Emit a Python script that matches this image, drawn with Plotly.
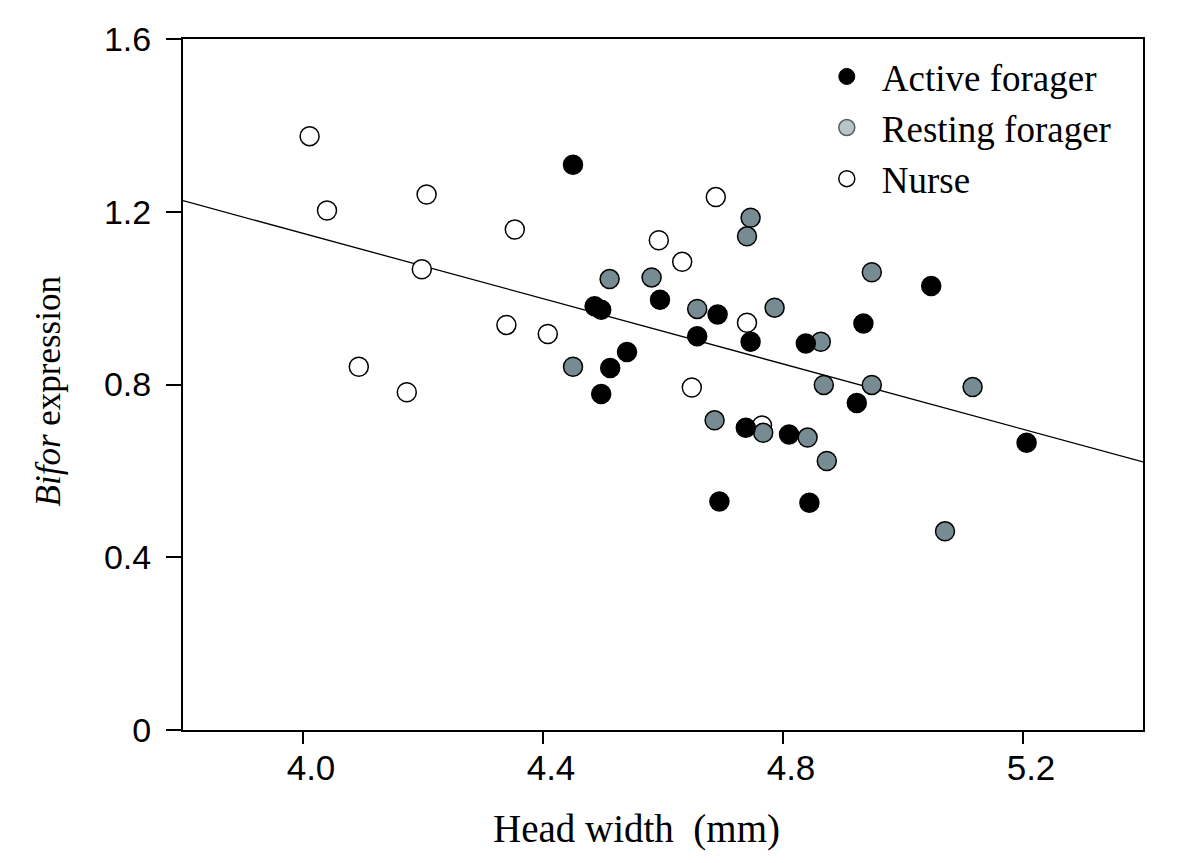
import plotly.graph_objects as go

# ---- data ----
active_x = [4.450, 4.486, 4.497, 4.595, 4.540, 4.512, 4.497, 5.047, 4.691, 4.934,
            4.657, 4.746, 4.838, 4.923, 4.738, 4.810, 4.694, 4.844, 5.206]
active_y = [1.309, 0.981, 0.973, 0.996, 0.875, 0.838, 0.778, 1.028, 0.962, 0.941,
            0.912, 0.899, 0.895, 0.757, 0.700, 0.684, 0.529, 0.526, 0.665]

resting_x = [4.511, 4.581, 4.450, 4.746, 4.740, 4.948, 4.657, 4.786, 4.863, 4.868,
             4.948, 5.116, 4.686, 4.767, 4.841, 4.873, 5.070]
resting_y = [1.044, 1.048, 0.841, 1.186, 1.143, 1.060, 0.975, 0.978, 0.899, 0.799,
             0.799, 0.794, 0.717, 0.688, 0.677, 0.623, 0.460]

nurse_x = [4.011, 4.206, 4.040, 4.353, 4.593, 4.198, 4.339, 4.408, 4.093, 4.173,
           4.688, 4.632, 4.740, 4.648, 4.765]
nurse_y = [1.375, 1.240, 1.203, 1.159, 1.134, 1.067, 0.938, 0.917, 0.841, 0.782,
           1.234, 1.084, 0.943, 0.793, 0.705]

fit_intercept = 2.662
fit_slope = -0.378

x_range = [3.8, 5.4]
y_range = [0.0, 1.6]
x_ticks = [4.0, 4.4, 4.8, 5.2]
x_ticktext = ["4.0", "4.4", "4.8", "5.2"]
y_ticks = [0.0, 0.4, 0.8, 1.2, 1.6]
y_ticktext = ["0", "0.4", "0.8", "1.2", "1.6"]

series_names = ["Active forager", "Resting forager", "Nurse"]

# ---- styles ----
GRAY = "#778b92"
LEG_GRAY = "#b9c4c7"
SERIF = "Liberation Serif, Times New Roman, serif"
SANS = "Liberation Sans, Arial, sans-serif"

fig = go.Figure()

fit_x = list(x_range)
fit_y = [fit_intercept + fit_slope * v for v in fit_x]
fig.add_trace(go.Scatter(x=fit_x, y=fit_y, mode="lines",
                         line=dict(color="black", width=1.3),
                         showlegend=False, hoverinfo="skip"))

mk_line = dict(color="black", width=1.5)
fig.add_trace(go.Scatter(x=nurse_x, y=nurse_y, mode="markers", showlegend=False,
                         marker=dict(size=19, color="white", line=mk_line)))
fig.add_trace(go.Scatter(x=resting_x, y=resting_y, mode="markers", showlegend=False,
                         marker=dict(size=19, color=GRAY, line=mk_line)))
fig.add_trace(go.Scatter(x=active_x, y=active_y, mode="markers", showlegend=False,
                         marker=dict(size=19, color="black", line=mk_line)))

# legend entries
fig.add_trace(go.Scatter(x=[None], y=[None], mode="markers", name=series_names[0],
                         marker=dict(size=17, color="black", line=dict(color="black", width=1))))
fig.add_trace(go.Scatter(x=[None], y=[None], mode="markers", name=series_names[1],
                         marker=dict(size=17, color=LEG_GRAY, line=dict(color="#555f63", width=1.5))))
fig.add_trace(go.Scatter(x=[None], y=[None], mode="markers", name=series_names[2],
                         marker=dict(size=17, color="white", line=dict(color="black", width=1.5))))

axis_common = dict(showgrid=False, zeroline=False, showline=True, linecolor="black",
                   linewidth=2, mirror=True, ticks="outside", tickcolor="black",
                   tickwidth=2)

fig.update_layout(
    width=1200, height=863,
    margin=dict(l=175, r=65, t=26, b=141),
    plot_bgcolor="white", paper_bgcolor="white",
    xaxis=dict(range=x_range, tickvals=x_ticks, ticktext=x_ticktext, ticklen=12,
               tickfont=dict(family=SANS, size=35, color="black"),
               ticklabelstandoff=-6, ticklabelshift=8, **axis_common),
    yaxis=dict(range=y_range, tickvals=y_ticks, ticktext=y_ticktext, ticklen=15,
               tickfont=dict(family=SANS, size=34, color="black"),
               ticklabelstandoff=8, **axis_common),
    legend=dict(x=0.655, y=0.99, xanchor="left", yanchor="top",
                font=dict(family=SERIF, size=37, color="black"),
                bgcolor="rgba(0,0,0,0)", itemwidth=60),
    annotations=[
        dict(text="Head width\u00a0 (mm)", xref="paper", yref="paper",
             x=0.472, y=-0.1437, xanchor="center", yanchor="middle", showarrow=False,
             font=dict(family=SERIF, size=39, color="black")),
        dict(text="<i>Bifor</i> expression", xref="paper", yref="paper",
             x=-0.1406, y=0.49, xanchor="center", yanchor="middle", showarrow=False,
             textangle=-90, font=dict(family=SERIF, size=35, color="black")),
    ],
)

fig.write_html("out.html")
